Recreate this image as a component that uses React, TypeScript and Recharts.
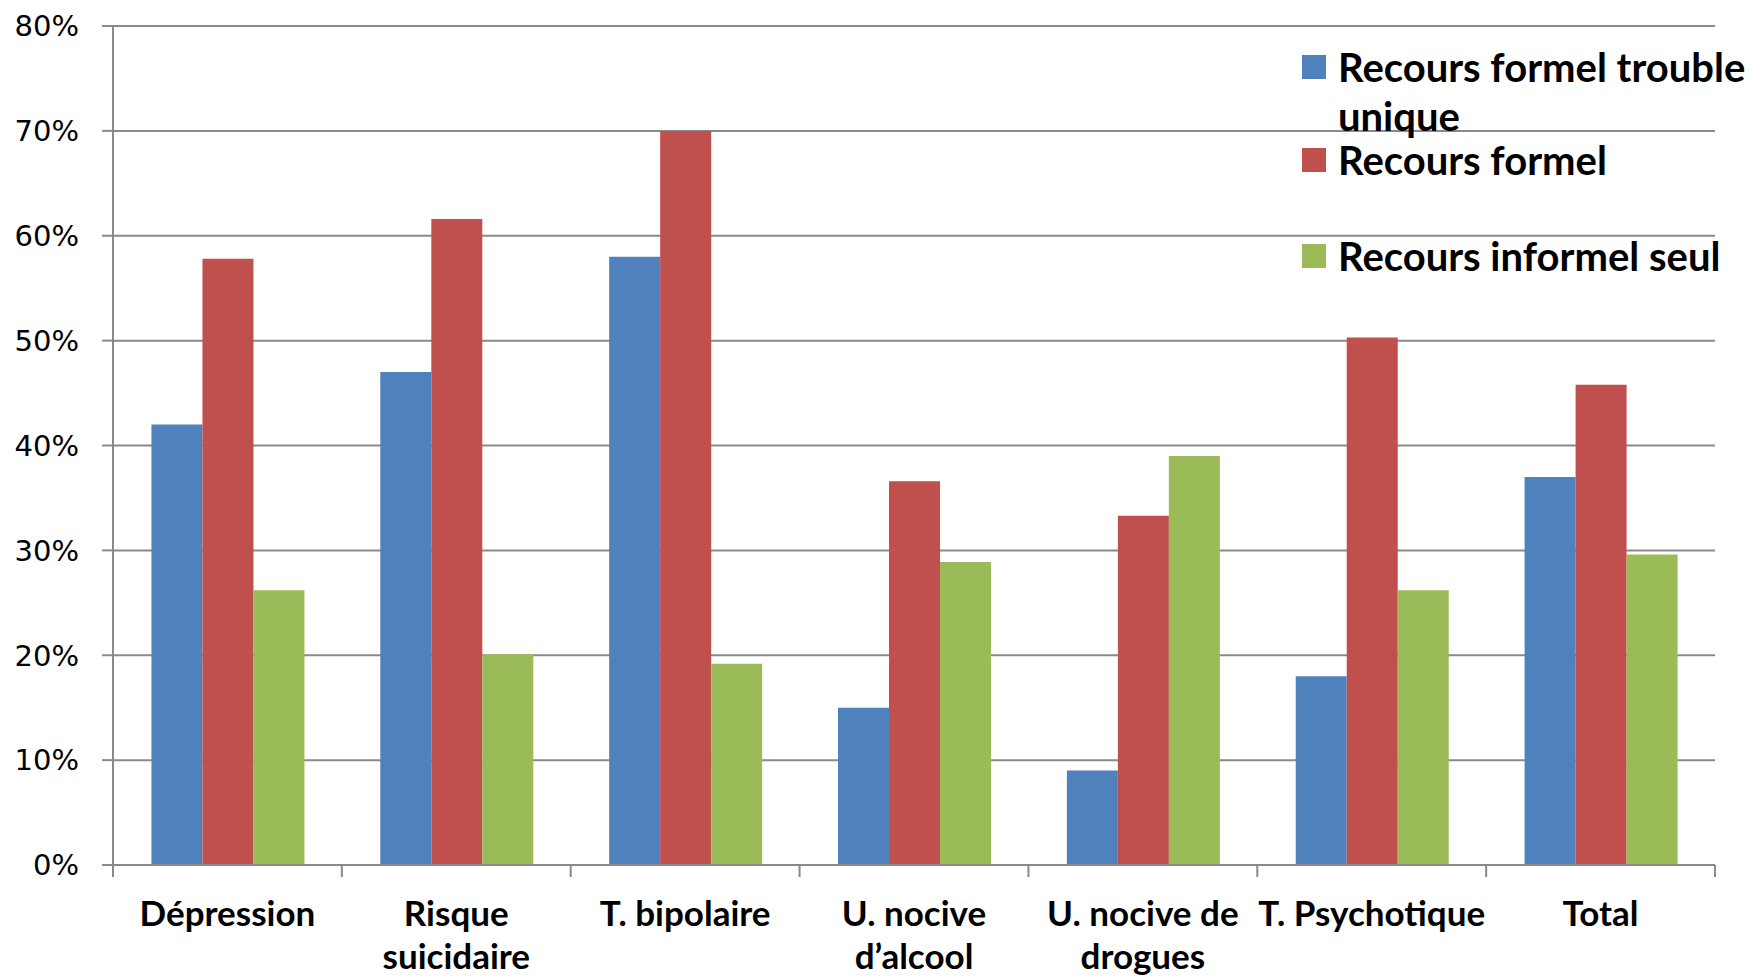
import React from 'react';
import { BarChart, Bar, XAxis, YAxis, CartesianGrid } from 'recharts';

const categories = [
  'Dépression',
  'Risque\nsuicidaire',
  'T. bipolaire',
  'U. nocive\nd’alcool',
  'U. nocive de\ndrogues',
  'T. Psychotique',
  'Total',
];
const formelUnique = [42, 47, 58, 15, 9, 18, 37];
const formel = [57.8, 61.6, 70, 36.6, 33.3, 50.3, 45.8];
const informelSeul = [26.2, 20.1, 19.2, 28.9, 39.0, 26.2, 29.6];
const yTicks = [0, 10, 20, 30, 40, 50, 60, 70, 80];

const seriesKeys = ['formelUnique', 'formel', 'informelSeul'];
const seriesNames = ['Recours formel trouble unique', 'Recours formel', 'Recours informel seul'];
const legendLines = [['Recours formel trouble', 'unique'], ['Recours formel'], ['Recours informel seul']];
const colors = ['#4F81BD', '#C0504D', '#9BBB59'];

const data = categories.map((c, i) => ({
  category: c,
  formelUnique: formelUnique[i],
  formel: formel[i],
  informelSeul: informelSeul[i],
}));

const W = 1753;
const H = 977;
const M = { top: 26, right: 38, left: 0, bottom: 0 };
const Y_W = 113;
const X_H = 112;
const PLOT_W = W - M.left - M.right - Y_W;
const BAND = PLOT_W / categories.length;
const AXIS = '#8a8a8a';
const LABEL_FONT = 'Lato, "Noto Sans", sans-serif';

const XTick = (props: any) => {
  const { x, y, payload, index } = props;
  const lines = String(payload.value).split('\n');
  const half = BAND / 2;
  return (
    <g>
      <line x1={x - half} x2={x - half} y1={y} y2={y + 12} stroke={AXIS} strokeWidth={2} />
      {index === categories.length - 1 && (
        <line x1={x + half} x2={x + half} y1={y} y2={y + 12} stroke={AXIS} strokeWidth={2} />
      )}
      <text x={x} y={y + 61} textAnchor="middle" fontFamily={LABEL_FONT} fontWeight={700} fontSize={35} fill="#000">
        {lines.map((l, i) => (
          <tspan key={i} x={x} dy={i === 0 ? 0 : 43}>
            {l}
          </tspan>
        ))}
      </text>
    </g>
  );
};

const legendTops = [67, 160, 256];

export default function App() {
  return (
    <div style={{ position: 'absolute', left: 0, top: 0, width: W, height: H, background: '#fff' }}>
      <BarChart width={W} height={H} data={data} margin={M} barGap={0} barCategoryGap="16.8%">
        <CartesianGrid vertical={false} stroke={AXIS} strokeWidth={2} />
        <XAxis
          dataKey="category"
          height={X_H}
          interval={0}
          tickSize={0}
          tickMargin={0}
          tickLine={false}
          axisLine={{ stroke: AXIS, strokeWidth: 2 }}
          tick={<XTick />}
        />
        <YAxis
          width={Y_W}
          domain={[0, 80]}
          ticks={yTicks}
          interval={0}
          tickSize={11}
          tickMargin={23}
          tickFormatter={(v: number) => `${v}%`}
          tickLine={{ stroke: AXIS, strokeWidth: 2 }}
          axisLine={{ stroke: AXIS, strokeWidth: 2 }}
          tick={{ fontFamily: '"DejaVu Sans", Verdana, sans-serif', fontSize: 29, fill: '#000' }}
        />
        {seriesKeys.map((k, i) => (
          <Bar key={k} dataKey={k} name={seriesNames[i]} fill={colors[i]} isAnimationActive={false} />
        ))}
      </BarChart>
      {seriesNames.map((n, i) => (
        <div
          key={n}
          style={{
            position: 'absolute',
            left: 1302,
            top: legendTops[i] - 12,
            display: 'flex',
            alignItems: 'flex-start',
          }}
        >
          <div style={{ width: 24, height: 24, background: colors[i], marginRight: 12, flex: 'none' }} />
          <div
            style={{
              fontFamily: LABEL_FONT,
              fontWeight: 700,
              fontSize: 40,
              lineHeight: '40px',
              marginTop: -8,
              color: '#000',
              whiteSpace: 'nowrap',
            }}
          >
            {legendLines[i].map((l, j) => (
              <div key={j} style={{ marginTop: j === 0 ? 0 : 9 }}>
                {l}
              </div>
            ))}
          </div>
        </div>
      ))}
    </div>
  );
}
